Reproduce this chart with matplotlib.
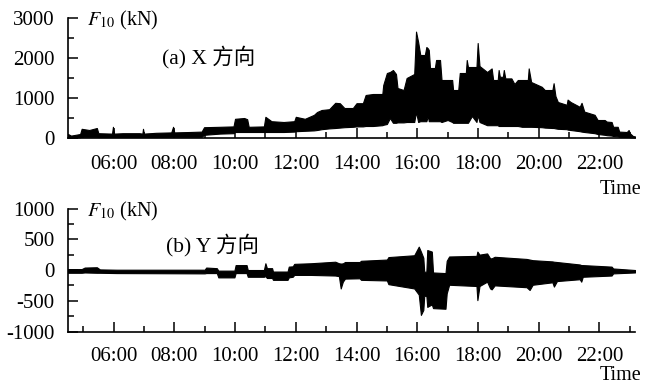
import matplotlib
matplotlib.use("Agg")
import matplotlib.pyplot as plt
from matplotlib.ticker import FixedLocator, FuncFormatter

plt.rcParams['font.family'] = ['Liberation Serif', 'Noto Sans CJK SC']
plt.rcParams['mathtext.fontset'] = 'stix'
plt.rcParams['axes.unicode_minus'] = False

# (a) X 方向: envelope of F10, hours / upper kN / lower kN
t_x = [4.50, 4.60, 4.75, 4.90, 4.95, 5.20, 5.45, 5.50, 5.95, 5.98, 6.02, 6.30,
       6.85, 6.95, 6.97, 7.00, 7.40, 7.90, 7.96, 8.00, 8.50, 8.90, 8.98, 9.50,
       9.95, 10.00, 10.30, 10.40, 10.45, 10.95, 11.00, 11.20, 11.60, 11.95, 12.00,
       12.30, 12.60, 12.70, 12.85, 13.10, 13.30, 13.45, 13.60, 13.88, 14.00, 14.21,
       14.30, 14.54, 14.85, 14.88, 15.00, 15.10, 15.20, 15.30, 15.35, 15.55, 15.65,
       15.90, 15.96, 16.03, 16.10, 16.25, 16.30, 16.35, 16.38, 16.42, 16.58, 16.62,
       16.75, 16.80, 17.00, 17.15, 17.18, 17.35, 17.40, 17.60, 17.63, 17.67, 17.80,
       17.95, 17.99, 18.05, 18.30, 18.45, 18.50, 18.65, 18.68, 18.72, 18.82, 18.85,
       18.90, 19.10, 19.20, 19.31, 19.45, 19.64, 19.67, 19.75, 20.10, 20.20, 20.45,
       20.49, 20.55, 20.63, 20.92, 20.95, 21.05, 21.35, 21.41, 21.50, 21.84, 21.94,
       22.17, 22.24, 22.40, 22.45, 22.60, 22.65, 22.90, 22.96, 23.00, 23.10, 23.17]
up_x = [100, 60, 80, 100, 230, 200, 250, 120, 110, 280, 110, 120,
        120, 110, 230, 110, 130, 140, 280, 140, 150, 160, 270, 280,
        290, 480, 500, 470, 280, 290, 530, 420, 400, 420, 530,
        480, 580, 650, 700, 720, 880, 870, 750, 750, 870, 870,
        1075, 1100, 1100, 1325, 1625, 1650, 1700, 1600, 1250, 1200, 1500,
        1600, 2660, 2400, 2075, 2075, 2275, 2240, 2200, 1750, 1750, 1950,
        1950, 1450, 1450, 1450, 1200, 1200, 1625, 1625, 1950, 1775, 1775,
        1775, 2375, 1800, 1650, 1740, 1450, 1450, 1700, 1530, 1530, 1700,
        1490, 1490, 1350, 1450, 1450, 1450, 1740, 1400, 1280, 1200, 1200,
        1370, 1050, 900, 830, 960, 900, 780, 880, 660, 580, 450,
        450, 410, 400, 280, 280, 160, 150, 200, 120, 50, 40]
lo_x = [10, 10, 15, 20, 30, 30, 30, 25, 25, 25, 25, 25,
        25, 25, 25, 25, 25, 30, 30, 30, 30, 30, 80, 110,
        120, 150, 150, 150, 150, 150, 150, 150, 150, 160, 170,
        180, 190, 200, 220, 240, 250, 260, 270, 280, 290, 290,
        300, 300, 320, 330, 350, 500, 380, 380, 390, 390, 400,
        400, 650, 400, 420, 420, 420, 550, 420, 420, 420, 420,
        420, 400, 450, 400, 380, 380, 380, 380, 380, 380, 550,
        400, 575, 400, 320, 320, 320, 320, 300, 300, 300, 300,
        300, 300, 300, 300, 280, 280, 280, 280, 270, 260, 250,
        250, 240, 230, 220, 210, 200, 170, 160, 150, 120, 100,
        80, 70, 60, 50, 40, 30, 25, 25, 20, 15, 10]

# (b) Y 方向
t_y = [4.50, 4.95, 5.05, 5.45, 5.55, 6.10, 9.00, 9.05, 9.40, 9.45, 9.98, 10.02,
       10.38, 10.42, 10.95, 11.00, 11.05, 11.22, 11.25, 11.73, 11.77, 11.90, 11.95,
       12.50, 13.30, 13.42, 13.48, 13.55, 13.62, 14.10, 14.15, 15.00, 15.05, 15.90,
       16.05, 16.12, 16.20, 16.23, 16.30, 16.33, 16.48, 16.52, 16.93, 16.97, 17.05,
       17.95, 17.98, 18.05, 18.30, 18.40, 18.45, 18.55, 19.60, 19.70, 19.80, 20.45,
       20.50, 20.60, 21.35, 21.40, 21.45, 22.40, 22.45, 23.17]
up_y = [15, 15, 40, 45, 10, 5, 5, 40, 30, -10, -10, 80,
        80, 0, 0, 110, 30, 30, -25, -25, 55, 60, 100,
        110, 135, 110, 105, 108, 130, 130, 150, 170, 210, 240,
        380, 300, 200, -28, -28, 325, 300, -40, -50, 150, 220,
        230, 300, 250, 270, 190, 190, 215, 180, 170, 160, 140,
        135, 130, 90, 80, 80, 55, 25, 0]
lo_y = [-45, -45, -40, -45, -45, -50, -55, -50, -50, -120, -120, -50,
        -50, -110, -110, -100, -130, -130, -160, -160, -120, -110, -80,
        -80, -90, -100, -300, -190, -140, -135, -160, -170, -230, -300,
        -400, -730, -650, -420, -420, -600, -560, -620, -630, -380, -240,
        -260, -490, -260, -190, -300, -315, -250, -280, -325, -240, -200,
        -270, -180, -150, -190, -110, -90, -55, -40]

major_hours = [6, 8, 10, 12, 14, 16, 18, 20, 22]
minor_hours = [5, 7, 9, 11, 13, 15, 17, 19, 21, 23]

fig = plt.figure(figsize=(6.45, 3.87), dpi=100)
ax1 = fig.add_axes([0.1054, 0.6434, 0.8791, 0.3101])
ax2 = fig.add_axes([0.1054, 0.1434, 0.8791, 0.3178])

ax1.fill_between(t_x, lo_x, up_x, color='black', linewidth=0.8)
ax2.fill_between(t_y, lo_y, up_y, color='black', linewidth=0.8)

ax1.set_ylim(0, 3000)
ax1.yaxis.set_major_locator(FixedLocator([0, 1000, 2000, 3000]))
ax1.yaxis.set_minor_locator(FixedLocator([500, 1500, 2500]))
ax2.set_ylim(-1000, 1000)
ax2.yaxis.set_major_locator(FixedLocator([-1000, -500, 0, 500, 1000]))
ax2.yaxis.set_minor_locator(FixedLocator([-750, -250, 250, 750]))

for ax, xpad in [(ax1, 12.5), (ax2, 11)]:
    ax.set_xlim(4.5, 23.17)
    ax.xaxis.set_major_locator(FixedLocator(major_hours))
    ax.xaxis.set_minor_locator(FixedLocator(minor_hours))
    ax.xaxis.set_major_formatter(FuncFormatter(lambda v, p: '%02d:00' % int(round(v))))
    ax.spines['top'].set_visible(False)
    ax.spines['right'].set_visible(False)
    ax.spines['left'].set_linewidth(1.2)
    ax.spines['bottom'].set_linewidth(1.2)
    ax.tick_params(which='major', direction='in', length=7, width=1.1, labelsize=15)
    ax.tick_params(which='minor', direction='in', length=4.5, width=1.1)
    ax.tick_params(axis='y', which='major', pad=9.5)
    ax.tick_params(axis='x', which='major', pad=xpad)

fig.text(87 / 645, 0.933, r'$F_{10}$ (kN)', fontsize=14.5, va='baseline')
fig.text(162 / 645, 0.837, '(a) X 方向', fontsize=15.5, va='baseline')
fig.text(0.995, 0.4987, 'Time', fontsize=14.5, ha='right', va='baseline')

fig.text(87 / 645, 0.4406, r'$F_{10}$ (kN)', fontsize=14.5, va='baseline')
fig.text(166 / 645, 0.349, '(b) Y 方向', fontsize=15.5, va='baseline')
fig.text(0.995, 0.004, 'Time', fontsize=14.5, ha='right', va='bottom')

fig.savefig('out.png', dpi=100)
